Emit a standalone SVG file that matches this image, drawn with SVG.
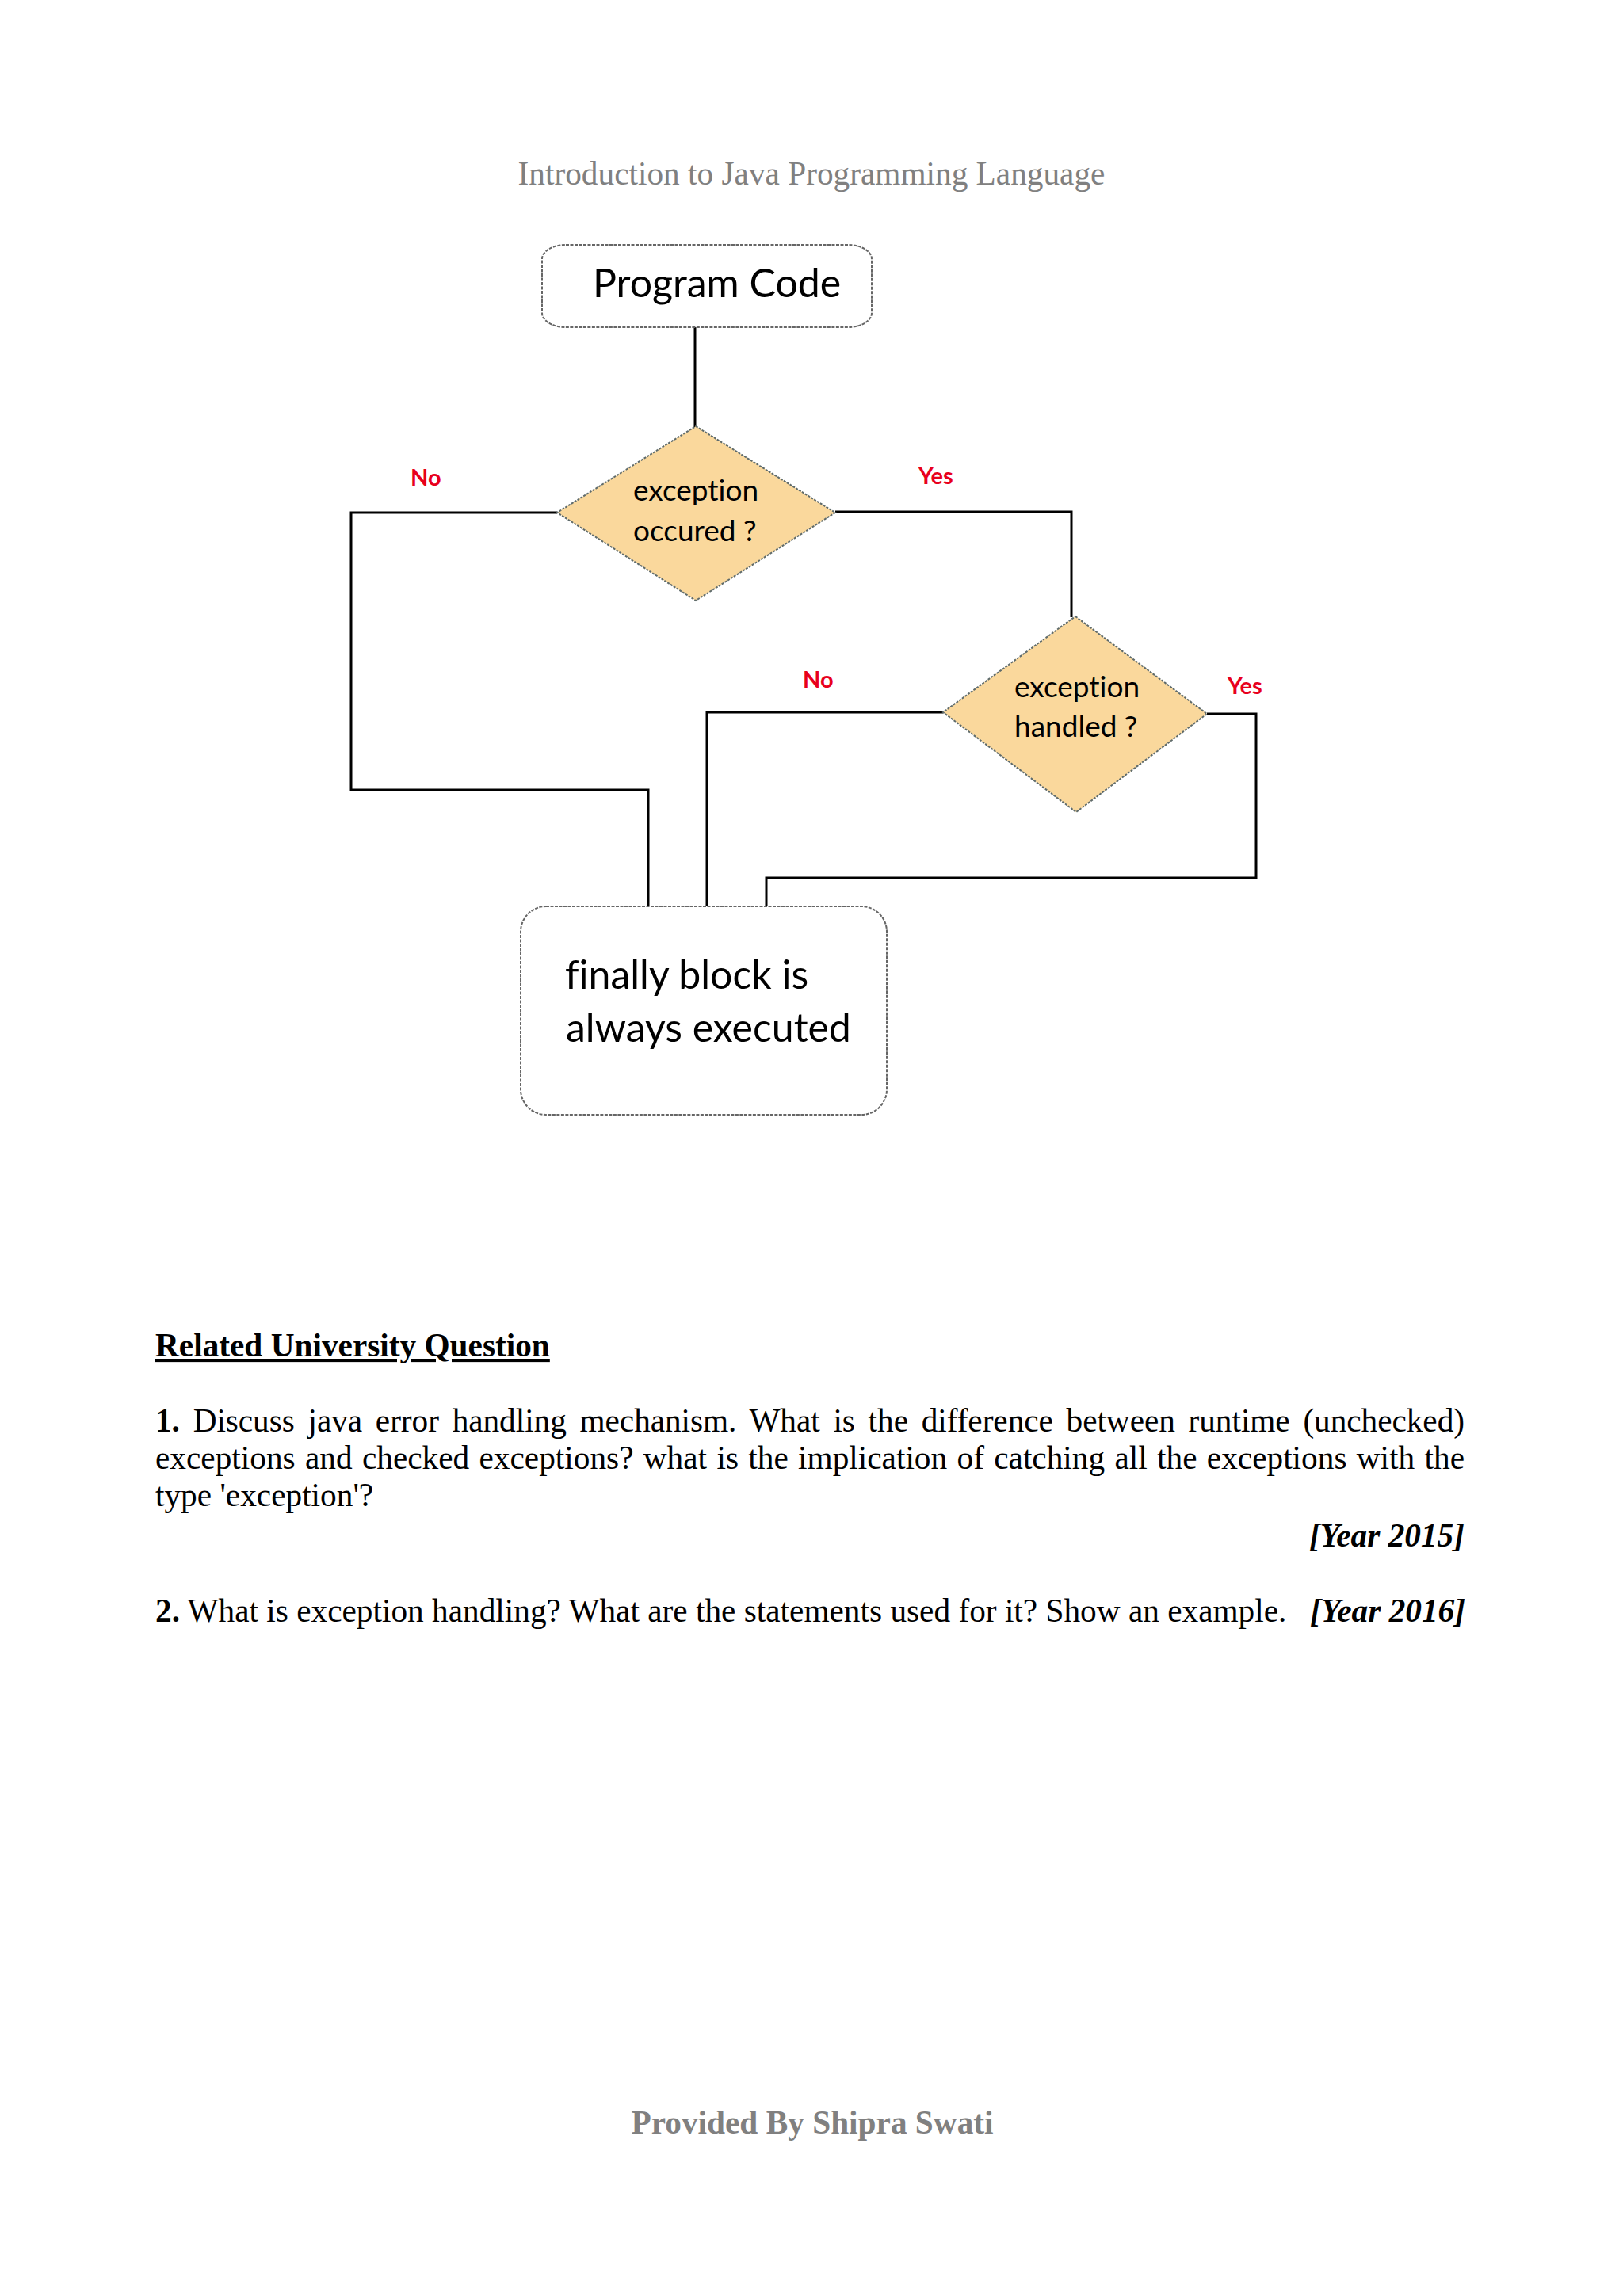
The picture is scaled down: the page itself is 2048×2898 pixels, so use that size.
<svg xmlns="http://www.w3.org/2000/svg" width="2048" height="2898" viewBox="0 0 2048 2898">
<style>
.serif{font-family:"Liberation Serif","Times New Roman",serif;}
.hdr{font-size:41.3px;fill:#808080;}
.body{font-size:41.3px;fill:#000;}
.node{fill:#fff;stroke:#666;stroke-width:2;stroke-dasharray:4 1.5;}
.dec{fill:#fad89c;stroke:#5f6b6b;stroke-width:2;stroke-dasharray:3 1.5;}
.ntext{font-family:Lato,"Open Sans","Liberation Sans",sans-serif;fill:#000;font-variant-ligatures:none;}
.lbl{font-family:Lato,"Liberation Sans",sans-serif;font-weight:bold;font-size:29px;fill:#e8001c;}
.conn{fill:none;stroke:#000;stroke-width:3;}
</style>
<rect width="2048" height="2898" fill="#fff"/>
<text class="serif hdr" x="1024" y="233" text-anchor="middle">Introduction to Java Programming Language</text>

<g id="connectors">
<polyline class="conn" points="877,413 877,539"/>
<polyline class="conn" points="703,647 443,647 443,997 818,997 818,1144"/>
<polyline class="conn" points="1054,646 1352,646 1352,779"/>
<polyline class="conn" points="1190,899 892,899 892,1144"/>
<polyline class="conn" points="1523,901 1585,901 1585,1108 967,1108 967,1144"/>
</g>

<g id="labels">
<text class="lbl" x="518" y="613">No</text>
<text class="lbl" x="1159" y="611">Yes</text>
<text class="lbl" x="1013" y="868">No</text>
<text class="lbl" x="1549" y="876">Yes</text>
</g>

<g id="program-code">
<rect class="node" x="684" y="309" width="416" height="104" rx="30" ry="18"/>
<text class="ntext" x="748" y="375" font-size="50">Program Code</text>
</g>

<g id="exception-occured">
<polygon class="dec" points="878,538 1054,647 878,758 703,647"/>
<text class="ntext" x="799" y="632" font-size="37">exception</text>
<text class="ntext" x="799" y="683" font-size="37">occured ?</text>
</g>

<g id="exception-handled">
<polygon class="dec" points="1357,778 1523,901 1358,1025 1190,899"/>
<text class="ntext" x="1280" y="880" font-size="37">exception</text>
<text class="ntext" x="1280" y="930" font-size="37">handled ?</text>
</g>

<g id="finally-block">
<rect class="node" x="657" y="1144" width="462" height="263" rx="32" ry="32"/>
<text class="ntext" x="713" y="1248" font-size="50">finally block is</text>
<text class="ntext" x="714" y="1315" font-size="50">always executed</text>
</g>

<text class="serif body" x="196" y="1712" font-weight="bold" text-decoration="underline">Related University Question</text>
<text class="serif body" x="196" y="1807" word-spacing="6.5" textLength="1652" lengthAdjust="spacing"><tspan font-weight="bold">1.</tspan> Discuss java error handling mechanism. What is the difference between runtime (unchecked)</text>
<text class="serif body" x="196" y="1854" word-spacing="2" textLength="1652" lengthAdjust="spacing">exceptions and checked exceptions? what is the implication of catching all the exceptions with the</text>
<text class="serif body" x="196" y="1901">type 'exception'?</text>
<text class="serif body" x="1848" y="1952" text-anchor="end" font-weight="bold" font-style="italic">[Year 2015]</text>
<text class="serif body" x="196" y="2047"><tspan font-weight="bold">2.</tspan> What is exception handling? What are the statements used for it? Show an example.</text>
<text class="serif body" x="1849" y="2047" text-anchor="end" font-weight="bold" font-style="italic">[Year 2016]</text>

<text class="serif hdr" x="1025" y="2693" text-anchor="middle" font-weight="bold">Provided By Shipra Swati</text>
</svg>
